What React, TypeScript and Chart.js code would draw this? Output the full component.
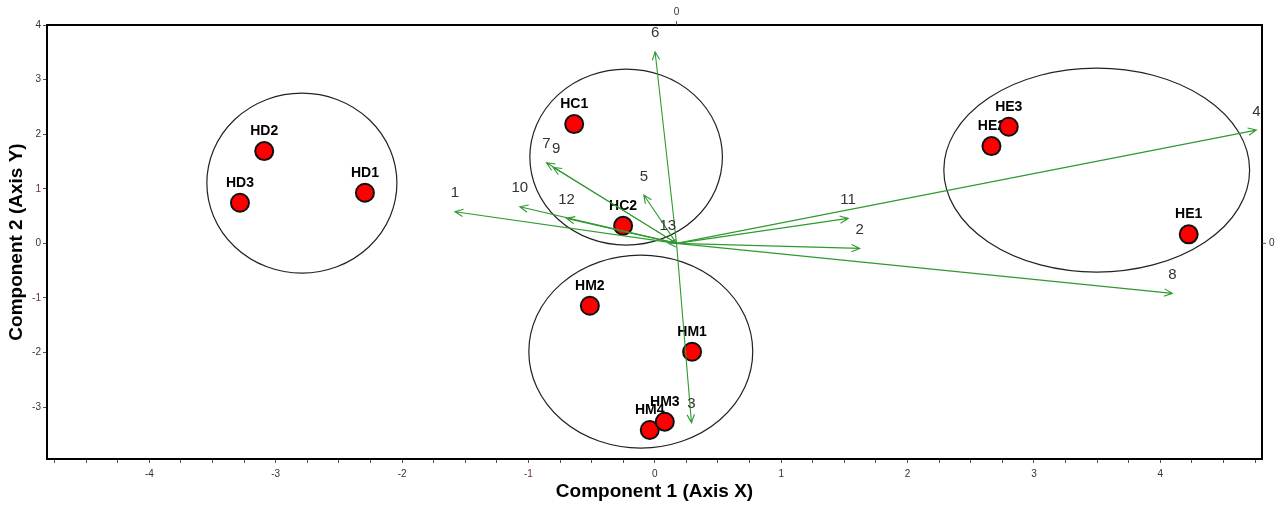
import { useEffect, useRef } from 'react';
import { Chart, registerables } from 'chart.js';

Chart.register(...registerables);

// Sample scores (Component 1, Component 2)
const sampleLabels = ['HD1', 'HD2', 'HD3', 'HC1', 'HC2', 'HM1', 'HM2', 'HM4', 'HM3', 'HE1', 'HE2', 'HE3'];
const sampleX = [-2.294, -3.091, -3.283, -0.638, -0.251, 0.295, -0.514, -0.040, 0.079, 4.225, 2.664, 2.801];
const sampleY = [0.927, 1.690, 0.744, 2.185, 0.322, -1.985, -1.143, -3.419, -3.267, 0.165, 1.782, 2.136];

// Variable loadings (arrow tips), drawn from a common origin
const loadingLabels = ['1', '2', '3', '4', '5', '6', '7', '8', '9', '10', '11', '12', '13'];
const loadingX = [-1.582, 1.622, 0.290, 4.760, -0.087, 0.002, -0.857, 4.096, -0.804, -1.068, 1.530, -0.699, 0.103];
const loadingY = [0.579, -0.092, -3.286, 2.075, 0.885, 3.509, 1.476, -0.916, 1.392, 0.670, 0.458, 0.458, 0.005];
const loadingOriginX = [0.172];
const loadingOriginY = [0.0];

// Group ellipses (HD, HC, HM, HE)
const groupCX = [-2.793, -0.227, -0.111, 3.497];
const groupCY = [1.104, 1.581, -1.982, 1.342];
const groupRX = [0.752, 0.762, 0.886, 1.210];
const groupRY = [1.648, 1.612, 1.767, 1.868];

const X_MIN = -4.81;
const X_MAX = 4.805;
const Y_MIN = -3.95;
const Y_MAX = 4;

const FONT = '"Liberation Sans", Arial, sans-serif';
const GREEN = '#2f9a2f';

const biplotPlugin = {
  id: 'biplot',
  beforeDatasetsDraw(chart: any) {
    const { ctx, scales } = chart;
    const xs = scales.x;
    const ys = scales.y;
    ctx.save();
    // ellipses
    ctx.strokeStyle = '#222';
    ctx.lineWidth = 1.2;
    for (let i = 0; i < groupCX.length; i++) {
      const cx = xs.getPixelForValue(groupCX[i]);
      const cy = ys.getPixelForValue(groupCY[i]);
      const rx = Math.abs(xs.getPixelForValue(groupCX[i] + groupRX[i]) - cx);
      const ry = Math.abs(ys.getPixelForValue(groupCY[i] + groupRY[i]) - cy);
      ctx.beginPath();
      ctx.ellipse(cx, cy, rx, ry, 0, 0, Math.PI * 2);
      ctx.stroke();
    }
    // sample labels (under markers)
    const meta = chart.getDatasetMeta(0);
    ctx.fillStyle = '#000';
    ctx.font = `bold 14px ${FONT}`;
    ctx.textAlign = 'center';
    ctx.textBaseline = 'middle';
    meta.data.forEach((el: any, i: number) => {
      ctx.fillText(sampleLabels[i], el.x, el.y - 20);
    });
    ctx.restore();
  },
  afterDatasetsDraw(chart: any) {
    const { ctx, scales, chartArea } = chart;
    const xs = scales.x;
    const ys = scales.y;
    const ox = xs.getPixelForValue(loadingOriginX[0]);
    const oy = ys.getPixelForValue(loadingOriginY[0]);
    ctx.save();
    ctx.strokeStyle = GREEN;
    ctx.lineWidth = 1.1;
    for (let i = 0; i < loadingX.length; i++) {
      const tx = xs.getPixelForValue(loadingX[i]);
      const ty = ys.getPixelForValue(loadingY[i]);
      ctx.beginPath();
      ctx.moveTo(ox, oy);
      ctx.lineTo(tx, ty);
      const ang = Math.atan2(ty - oy, tx - ox);
      const hl = 9;
      const ha = 0.42;
      ctx.moveTo(tx - hl * Math.cos(ang - ha), ty - hl * Math.sin(ang - ha));
      ctx.lineTo(tx, ty);
      ctx.lineTo(tx - hl * Math.cos(ang + ha), ty - hl * Math.sin(ang + ha));
      ctx.stroke();
    }
    ctx.fillStyle = '#333';
    ctx.font = `15px ${FONT}`;
    ctx.textAlign = 'center';
    ctx.textBaseline = 'middle';
    for (let i = 0; i < loadingX.length; i++) {
      const tx = xs.getPixelForValue(loadingX[i]);
      const ty = ys.getPixelForValue(loadingY[i]);
      const dx = loadingLabels[i] === '9' ? 3 : 0;
      const dy = loadingLabels[i] === '13' ? -17 : -18.5;
      ctx.fillText(loadingLabels[i], tx + dx, ty + dy);
    }
    // frame
    ctx.strokeStyle = '#000';
    ctx.lineWidth = 2;
    ctx.strokeRect(chartArea.left, chartArea.top, chartArea.right - chartArea.left, chartArea.bottom - chartArea.top);
    // secondary (loading) axes: zero marks on top and right
    ctx.lineWidth = 1;
    ctx.strokeStyle = '#555';
    ctx.beginPath();
    ctx.moveTo(ox, chartArea.top);
    ctx.lineTo(ox, chartArea.top - 4);
    ctx.moveTo(chartArea.right, oy);
    ctx.lineTo(chartArea.right + 4, oy);
    ctx.stroke();
    ctx.fillStyle = '#333';
    ctx.font = `10px ${FONT}`;
    ctx.textAlign = 'center';
    ctx.fillText('0', ox, chartArea.top - 13);
    ctx.textAlign = 'left';
    ctx.fillText('0', chartArea.right + 7, oy);
    ctx.restore();
  },
};

const isInt = (v: number) => Math.abs(v - Math.round(v)) < 1e-6;
const tickColor = (c: any) => (Math.abs(c.tick.value - 1) < 1e-6 || Math.abs(c.tick.value + 1) < 1e-6 ? '#6a2d50' : '#333');

export default function App() {
  const ref = useRef<HTMLCanvasElement | null>(null);

  useEffect(() => {
    document.body.style.margin = '0';
    if (!ref.current) return;
    const points = sampleX.map((x, i) => ({ x, y: sampleY[i] }));
    const chart = new Chart(ref.current, {
      type: 'scatter',
      data: {
        datasets: [
          {
            data: points,
            pointRadius: 9,
            pointHoverRadius: 9,
            backgroundColor: '#ff0000',
            borderColor: '#111',
            borderWidth: 2,
          },
        ],
      },
      options: {
        animation: false,
        responsive: false,
        maintainAspectRatio: false,
        events: [],
        layout: { padding: { top: 25, right: 20, left: 0, bottom: 0 } },
        plugins: { legend: { display: false }, tooltip: { enabled: false } },
        scales: {
          x: {
            type: 'linear',
            min: X_MIN,
            max: X_MAX,
            afterFit: (s: any) => {
              s.height = 47;
            },
            border: { display: false },
            grid: { drawOnChartArea: false, drawTicks: true, tickLength: 4, color: '#555' },
            ticks: {
              stepSize: 0.25,
              includeBounds: false,
              autoSkip: false,
              maxRotation: 0,
              padding: 5,
              color: (c: any) => (Math.abs(c.tick.value + 1) < 1e-6 ? '#6a2d50' : '#333'),
              font: { family: FONT, size: 10 },
              callback: (v: any) => (isInt(Number(v)) ? String(Math.round(Number(v))) : ''),
            },
            title: {
              display: true,
              text: 'Component 1 (Axis X)',
              color: '#000',
              font: { family: FONT, size: 19, weight: 'bold' },
              padding: { top: 4, bottom: 2.5 },
            },
          },
          y: {
            type: 'linear',
            min: Y_MIN,
            max: Y_MAX,
            afterFit: (s: any) => {
              s.width = 47;
            },
            border: { display: false },
            grid: { drawOnChartArea: false, drawTicks: true, tickLength: 4, color: '#555' },
            ticks: {
              stepSize: 1,
              includeBounds: false,
              padding: 2,
              color: tickColor,
              font: { family: FONT, size: 10 },
              callback: (v: any) => String(Math.round(Number(v))),
            },
            title: {
              display: true,
              text: 'Component 2 (Axis Y)',
              color: '#000',
              font: { family: FONT, size: 19, weight: 'bold' },
              padding: { top: 5.5, bottom: 4 },
            },
          },
        },
      },
      plugins: [biplotPlugin],
    });
    return () => chart.destroy();
  }, []);

  return (
    <div style={{ position: 'absolute', left: 0, top: 0, width: 1282, height: 506, background: '#fff' }}>
      <canvas ref={ref} width={1282} height={506} style={{ display: 'block' }} />
    </div>
  );
}
